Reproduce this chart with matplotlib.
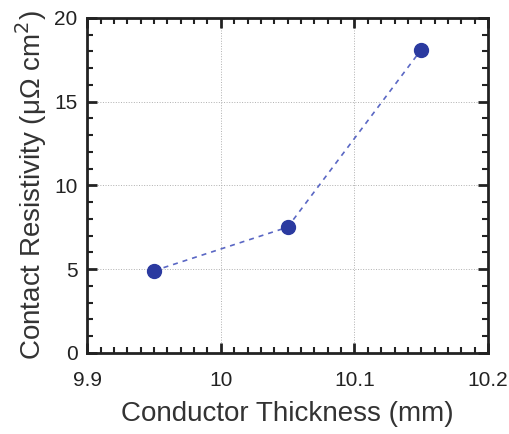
import matplotlib
matplotlib.use("Agg")
import matplotlib.pyplot as plt
from matplotlib.ticker import MultipleLocator

plt.rcParams['font.family'] = ['Liberation Sans', 'DejaVu Sans']

thickness = [9.95, 10.05, 10.15]
resistivity = [4.9, 7.5, 18.1]

fig = plt.figure(figsize=(5.10, 4.34), dpi=100)
ax = fig.add_axes([0.171, 0.187, 0.786, 0.772])

ax.plot(thickness, resistivity, linestyle=(0, (3, 3)), color='#5a67c4', linewidth=1.2, zorder=2)
ax.plot(thickness, resistivity, 'o', color='#2b3aa0', markersize=10, zorder=3)

ax.set_xlim(9.9, 10.2)
ax.set_ylim(0, 20)
ax.xaxis.set_major_locator(MultipleLocator(0.1))
ax.xaxis.set_minor_locator(MultipleLocator(0.01))
ax.yaxis.set_major_locator(MultipleLocator(5))
ax.yaxis.set_minor_locator(MultipleLocator(1))
ax.set_xticks([9.9, 10.0, 10.1, 10.2])
ax.set_xticklabels(['9.9', '10', '10.1', '10.2'])

ax.grid(True, which='major', linestyle=':', color='#b0b0b0', linewidth=0.7)
ax.tick_params(which='both', direction='in', top=True, right=True, labelsize=15, colors='#222222')
ax.tick_params(which='major', length=7, width=2)
ax.tick_params(which='minor', length=4, width=1.5)
ax.tick_params(axis='x', pad=13)
ax.tick_params(axis='y', pad=7)
for s in ax.spines.values():
    s.set_linewidth(2)
    s.set_color('#222222')

ax.set_xlabel('Conductor Thickness (mm)', fontsize=20, color='#333333', labelpad=8)
ax.set_ylabel(r'Contact Resistivity (μΩ cm$^2$)', fontsize=20, color='#333333', labelpad=4)

fig.savefig('out.png', dpi=100)
